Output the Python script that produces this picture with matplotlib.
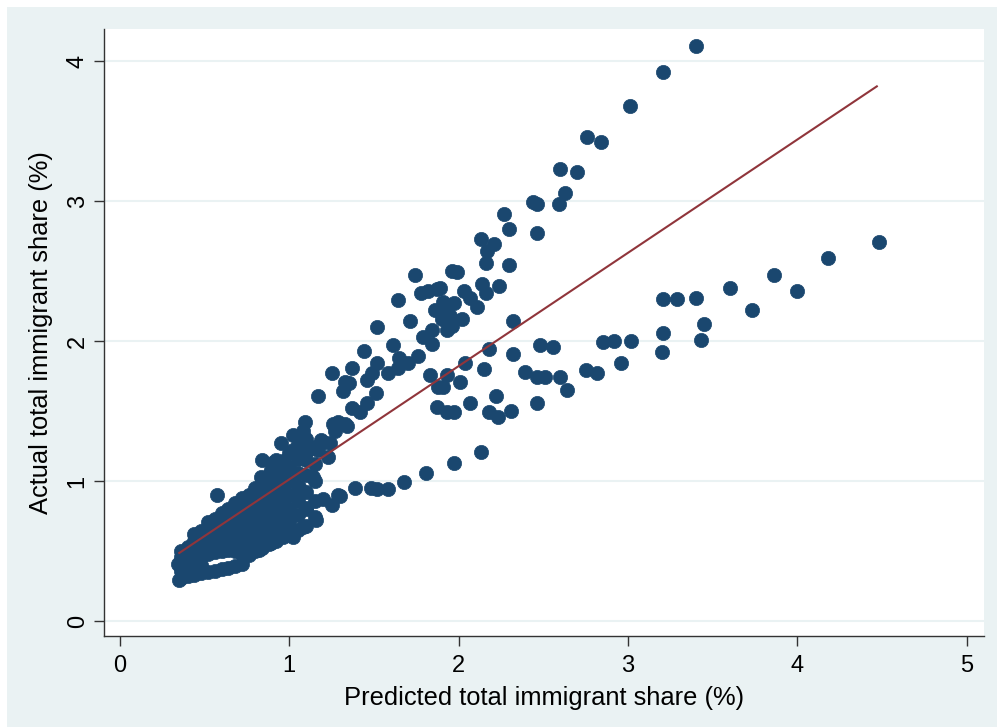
import matplotlib
matplotlib.use("Agg")
import matplotlib.pyplot as plt
import numpy as np

plt.rcParams["font.family"] = ["Liberation Sans", "DejaVu Sans"]

# points, (predicted %, actual %)
upper_branch = [
    (3.40, 4.11), (3.21, 3.92), (3.01, 3.68), (2.76, 3.46), (2.84, 3.42), (2.60, 3.23),
    (2.70, 3.21), (2.63, 3.06), (2.59, 2.98), (2.44, 2.99), (2.46, 2.98), (2.27, 2.91),
    (2.30, 2.80), (2.46, 2.77), (2.13, 2.73), (2.21, 2.69), (2.17, 2.64), (2.16, 2.56),
    (2.30, 2.54), (1.96, 2.50), (1.99, 2.49), (2.14, 2.41), (2.24, 2.39), (2.03, 2.36),
    (2.07, 2.31), (2.16, 2.34), (2.11, 2.24), (2.02, 2.16), (1.89, 2.38), (1.74, 2.47),
    (1.64, 2.29), (1.78, 2.34), (1.82, 2.36), (1.87, 2.37), (1.86, 2.22), (1.93, 2.22),
    (1.90, 2.16), (1.96, 2.11), (1.93, 2.08), (1.84, 2.08), (1.79, 2.03), (1.84, 1.98),
    (1.91, 2.28), (1.97, 2.27), (1.95, 2.18), (1.71, 2.14), (1.52, 2.10), (1.61, 1.97),
    (1.44, 1.93), (1.76, 1.89), (1.70, 1.84), (1.65, 1.88), (1.64, 1.81), (1.58, 1.77),
    (1.52, 1.84), (1.49, 1.77), (1.46, 1.72), (1.37, 1.81), (1.33, 1.71), (1.25, 1.77),
    (1.35, 1.70), (1.17, 1.61), (1.32, 1.64), (1.51, 1.63), (1.46, 1.56), (1.37, 1.52),
    (1.42, 1.49), (1.29, 1.42), (1.34, 1.39), (1.27, 1.36), (1.19, 1.29), (1.24, 1.27),
    (1.09, 1.42), (1.08, 1.36), (1.11, 1.22), (1.17, 1.22), (1.23, 1.17), (1.14, 1.03),
    (1.06, 1.17), (1.02, 1.33), (0.95, 1.27), (1.02, 1.22), (1.20, 1.28), (1.26, 1.41),
    (1.33, 1.41), (0.90, 1.13), (0.89, 1.08), (0.83, 1.03), (0.84, 1.15), (0.92, 1.15),
    (0.95, 0.99), (1.06, 0.96), (0.57, 0.90),
]

middle_points = [
    (2.32, 2.14), (2.18, 1.94), (2.48, 1.97), (2.56, 1.96), (2.32, 1.91), (2.04, 1.84),
    (2.15, 1.80), (2.39, 1.78), (2.46, 1.74), (2.51, 1.74), (2.60, 1.74), (2.01, 1.71),
    (2.22, 1.61), (2.64, 1.65), (1.93, 1.76), (1.91, 1.67), (1.83, 1.76), (1.88, 1.67),
    (1.87, 1.53), (1.93, 1.49), (1.97, 1.49), (2.07, 1.56), (2.46, 1.56), (2.18, 1.49),
    (2.23, 1.46), (2.31, 1.50), (2.13, 1.21), (1.97, 1.13), (1.81, 1.06), (1.68, 0.99),
]

lower_branch = [
    (4.48, 2.71), (4.18, 2.59), (3.86, 2.47), (4.00, 2.36), (3.60, 2.38), (3.73, 2.22),
    (3.21, 2.30), (3.29, 2.30), (3.40, 2.31), (3.45, 2.12), (3.21, 2.06), (3.43, 2.01),
    (3.20, 1.92), (3.02, 2.00), (2.92, 2.00), (2.85, 1.99), (2.96, 1.84), (2.75, 1.79),
    (2.82, 1.77), (1.58, 0.94), (1.52, 0.94), (1.48, 0.95), (1.39, 0.95), (1.29, 0.90),
    (1.20, 0.87), (1.30, 0.89), (1.25, 0.83), (1.16, 0.72), (1.10, 0.81), (1.08, 0.67),
    (1.02, 0.60), (0.95, 0.63), (0.89, 0.56), (0.82, 0.51),
]

dense_cluster = [
    (0.35, 0.29), (0.34, 0.41), (0.36, 0.31), (0.36, 0.36), (0.36, 0.41), (0.36, 0.46),
    (0.36, 0.50), (0.40, 0.32), (0.40, 0.37), (0.40, 0.42), (0.40, 0.47), (0.40, 0.53),
    (0.44, 0.33), (0.44, 0.38), (0.44, 0.44), (0.44, 0.50), (0.44, 0.57), (0.44, 0.62),
    (0.48, 0.34), (0.48, 0.40), (0.48, 0.46), (0.48, 0.52), (0.48, 0.58), (0.48, 0.64),
    (0.52, 0.35), (0.52, 0.48), (0.52, 0.54), (0.52, 0.60), (0.52, 0.66), (0.52, 0.71),
    (0.56, 0.36), (0.56, 0.49), (0.56, 0.55), (0.56, 0.61), (0.56, 0.67), (0.56, 0.73),
    (0.60, 0.37), (0.60, 0.50), (0.60, 0.56), (0.60, 0.63), (0.60, 0.70), (0.60, 0.77),
    (0.64, 0.38), (0.64, 0.51), (0.64, 0.58), (0.64, 0.65), (0.64, 0.72), (0.64, 0.80),
    (0.68, 0.39), (0.68, 0.50), (0.68, 0.57), (0.68, 0.64), (0.68, 0.71), (0.68, 0.78),
    (0.68, 0.84), (0.72, 0.41), (0.72, 0.48), (0.72, 0.55), (0.72, 0.62), (0.72, 0.69),
    (0.72, 0.76), (0.72, 0.83), (0.72, 0.88), (0.76, 0.47), (0.76, 0.54), (0.76, 0.61),
    (0.76, 0.68), (0.76, 0.75), (0.76, 0.82), (0.76, 0.90), (0.80, 0.50), (0.80, 0.57),
    (0.80, 0.64), (0.80, 0.72), (0.80, 0.80), (0.80, 0.88), (0.80, 0.95), (0.84, 0.52),
    (0.84, 0.60), (0.84, 0.68), (0.84, 0.76), (0.84, 0.84), (0.84, 0.92), (0.84, 1.00),
    (0.88, 0.55), (0.88, 0.63), (0.88, 0.71), (0.88, 0.80), (0.88, 0.88), (0.88, 0.96),
    (0.88, 1.04), (0.92, 0.57), (0.92, 0.65), (0.92, 0.74), (0.92, 0.83), (0.92, 0.92),
    (0.92, 1.00), (0.92, 1.09), (0.96, 0.60), (0.96, 0.68), (0.96, 0.77), (0.96, 0.86),
    (0.96, 0.95), (0.96, 1.04), (0.96, 1.14), (1.00, 0.62), (1.00, 0.71), (1.00, 0.80),
    (1.00, 0.90), (1.00, 1.00), (1.00, 1.10), (1.00, 1.20), (1.05, 0.65), (1.05, 0.76),
    (1.05, 0.86), (1.05, 0.96), (1.05, 1.06), (1.05, 1.16), (1.05, 1.26), (1.10, 0.68),
    (1.10, 0.80), (1.10, 0.92), (1.10, 1.04), (1.10, 1.15), (1.10, 1.30), (1.15, 0.74),
    (1.15, 0.86), (1.15, 1.00), (1.15, 1.12), (1.15, 1.24),
]

# linear fit drawn over the range of predicted values
fit_x = [0.35, 4.47]
fit_intercept = 0.203
fit_slope = 0.809

x_ticks = [0, 1, 2, 3, 4, 5]
y_ticks = [0, 1, 2, 3, 4]

navy = "#1a476f"
maroon = "#90353b"
bg = "#eaf2f3"

fig = plt.figure(figsize=(9.97, 7.27), dpi=100)
fig.patch.set_facecolor("white")
fig.patches.append(plt.Rectangle((7 / 997, 0), 1, 1 - 7 / 727, transform=fig.transFigure,
                                 facecolor=bg, edgecolor="none", zorder=-10))

ax = fig.add_axes([104 / 997, 1 - 636 / 727, (984 - 104) / 997, (636 - 29) / 727])
ax.set_facecolor("white")

pts = np.array(upper_branch + middle_points + lower_branch + dense_cluster)
ax.scatter(pts[:, 0], pts[:, 1], s=105, color=navy, edgecolors=navy, linewidths=0.5, zorder=3)

fx = np.array(fit_x)
ax.plot(fx, fit_intercept + fit_slope * fx, color=maroon, lw=1.5, zorder=4)

ax.set_xlim(-0.0945, 5.103)
ax.set_ylim(-0.107, 4.229)
ax.set_xticks(x_ticks)
ax.set_yticks(y_ticks)
ax.yaxis.grid(True, color=bg, lw=1.5)
ax.set_axisbelow(True)

for s in ["top", "right"]:
    ax.spines[s].set_visible(False)
for s in ["left", "bottom"]:
    ax.spines[s].set_color("#333333")
    ax.spines[s].set_linewidth(1.0)

ax.tick_params(axis="both", length=7, width=1, color="#333333", labelsize=17)
ax.tick_params(axis="x", pad=7)
ax.tick_params(axis="y", pad=4)
for lab in ax.get_yticklabels():
    lab.set_rotation(90)
    lab.set_va("center")

ax.set_xlabel("Predicted total immigrant share (%)", fontsize=18.4, labelpad=6)
ax.set_ylabel("Actual total immigrant share (%)", fontsize=18.4, labelpad=10)

fig.savefig("out.png", dpi=100, facecolor=fig.get_facecolor())
